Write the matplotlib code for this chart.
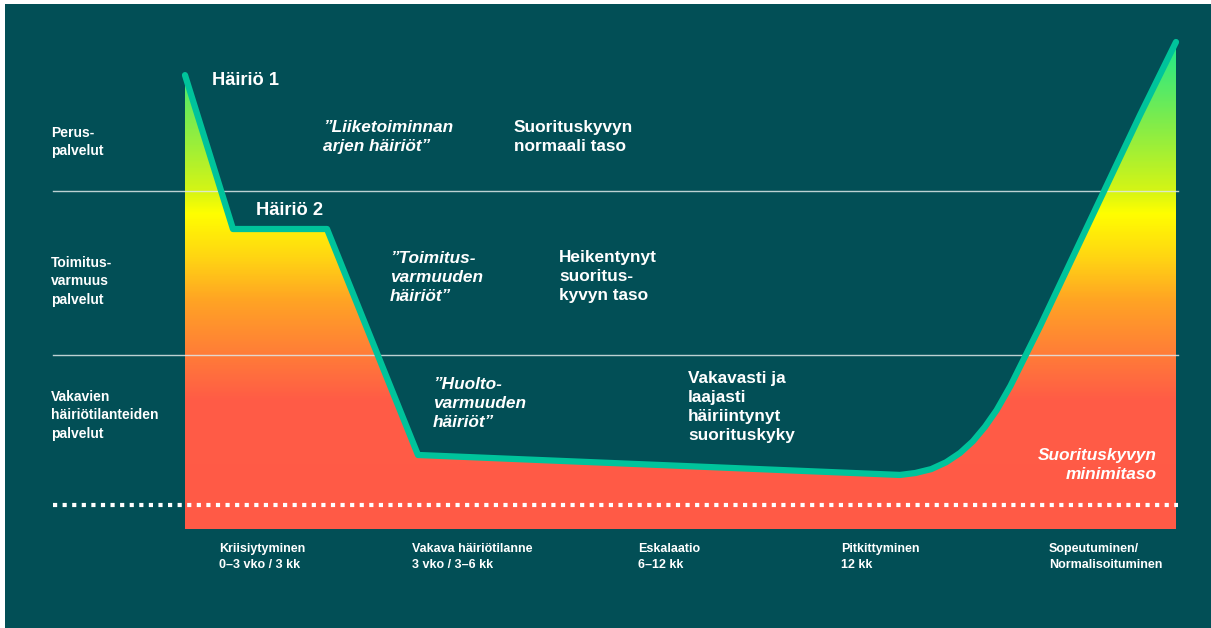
import numpy as np
import matplotlib
matplotlib.use('Agg')
import matplotlib.pyplot as plt
from matplotlib.colors import LinearSegmentedColormap
from matplotlib.patches import Polygon, Rectangle

plt.rcParams['font.family'] = ['Liberation Sans', 'DejaVu Sans']

# ---------------- data (time 0..100, capability level 0..100) ----------------
time_pos = [0.0, 4.84, 14.33, 23.51, 72.15, 73.7, 75.3, 76.8, 78.2, 79.5,
            80.73, 81.9, 83.3, 86.28, 92.74, 96.37, 100.0]
capability = [93.2, 61.6, 61.6, 15.2, 11.1, 11.5, 12.3, 13.7, 15.6, 18.0,
              21.0, 24.4, 29.4, 41.6, 69.4, 85.0, 100.0]
level_bounds = [69.4, 35.7]
min_level = 4.9

level_labels = ["Perus-\npalvelut",
                "Toimitus-\nvarmuus\npalvelut",
                "Vakavien\nhäiriötilanteiden\npalvelut"]
phase_labels = ["Kriisiytyminen\n0–3 vko / 3 kk",
                "Vakava häiriötilanne\n3 vko / 3–6 kk",
                "Eskalaatio\n6–12 kk",
                "Pitkittyminen\n12 kk",
                "Sopeutuminen/\nNormalisoituminen"]
disruption_labels = ["Häiriö 1", "Häiriö 2"]
quote_labels = ["”Liiketoiminnan\narjen häiriöt”",
                "”Toimitus-\nvarmuuden\nhäiriöt”",
                "”Huolto-\nvarmuuden\nhäiriöt”"]
state_labels = ["Suorituskyvyn\nnormaali taso",
                "Heikentynyt\nsuoritus-\nkyvyn taso",
                "Vakavasti ja\nlaajasti\nhäiriintynyt\nsuorituskyky"]
min_label = "Suorituskyvyn\nminimitaso"

# gradient stops (capability level -> colour)
grad_levels = [0.0, 26.5, 35.7, 47.0, 55.2, 64.9, 69.4, 84.0, 100.0]
grad_colors = ["#ff5a47", "#ff5c46", "#ff7c38", "#ffa424", "#ffd214",
               "#ffff00", "#d6f514", "#7eec4c", "#1ee88c"]

BG = "#024f56"
LINE = "#00c39b"
W, H = 1211, 628

fig = plt.figure(figsize=(W / 100, H / 100), dpi=100, facecolor='white')

# background axes in pixel coordinates
axbg = fig.add_axes([0, 0, 1, 1], zorder=0)
axbg.set_xlim(0, W)
axbg.set_ylim(H, 0)
axbg.axis('off')
axbg.add_patch(Rectangle((5, 4), W - 5, H - 4, facecolor=BG, edgecolor='none'))

# data axes
x0, x1, ytop, ybot = 185, 1176, 42, 529
ax = fig.add_axes([x0 / W, (H - ybot) / H, (x1 - x0) / W, (ybot - ytop) / H], zorder=1)
ax.set_xlim(0, 100)
ax.set_ylim(0, 100)
ax.axis('off')
ax.patch.set_alpha(0)

cmap = LinearSegmentedColormap.from_list(
    'grad', list(zip(np.array(grad_levels) / 100.0, grad_colors)))
grad = np.linspace(0, 1, 600).reshape(-1, 1)
im = ax.imshow(grad, cmap=cmap, origin='lower', extent=[0, 100.2, 0, 100],
               aspect='auto', zorder=1, interpolation='bilinear')
poly_pts = np.column_stack([time_pos + [100.2, 0.0], capability + [0.0, 0.0]])
poly = Polygon(poly_pts, closed=True, transform=ax.transData,
               facecolor='none', edgecolor='none')
ax.add_patch(poly)
im.set_clip_path(poly)

# level separator lines
for lv in level_bounds:
    ax.plot([-13.3, 100.2], [lv, lv], color='#dfe9e9', lw=1.0, alpha=0.85,
            clip_on=False, zorder=3)
# minimum level dotted line
ax.plot([-13.3, 100.2], [min_level, min_level], color='white', lw=3.0,
        linestyle=(0, (1, 1.3)), dash_capstyle='butt', clip_on=False, zorder=3)

# capability curve
ax.plot(time_pos, capability, color=LINE, lw=4.5, solid_capstyle='round',
        solid_joinstyle='round', clip_on=False, zorder=4)

T = axbg.transData
def txt(x, y, s, size, style='normal', ha='left', ls=1.2):
    fig.text(x, y, s, transform=T, fontsize=size, fontweight='bold',
             fontstyle=style, color='white', ha=ha, va='top', linespacing=ls,
             zorder=10)

# level labels
for (xx, yy), s in zip([(51, 126), (51, 256), (51, 390)], level_labels):
    txt(xx, yy, s, 10.0, ls=1.4)

# disruption labels
for (xx, yy), s in zip([(212, 72), (256, 202)], disruption_labels):
    txt(xx, yy, s, 13.2)

# quote labels
for (xx, yy), s in zip([(323, 120), (390, 251), (433, 377)], quote_labels):
    txt(xx, yy, s, 12.4, style='italic', ls=1.32)

# state labels
for (xx, yy), s in zip([(514, 120), (559, 250), (688, 371)], state_labels):
    txt(xx, yy, s, 12.4, ls=1.32)

txt(1157, 448, min_label, 12.4, style='italic', ha='right', ls=1.32)

# phase labels
for (xx, yy), s in zip([(219, 543), (412, 543), (638, 543), (841, 543), (1049, 543)],
                       phase_labels):
    txt(xx, yy, s, 9.0, ls=1.42)

fig.savefig('out.png', dpi=100, facecolor='white')
